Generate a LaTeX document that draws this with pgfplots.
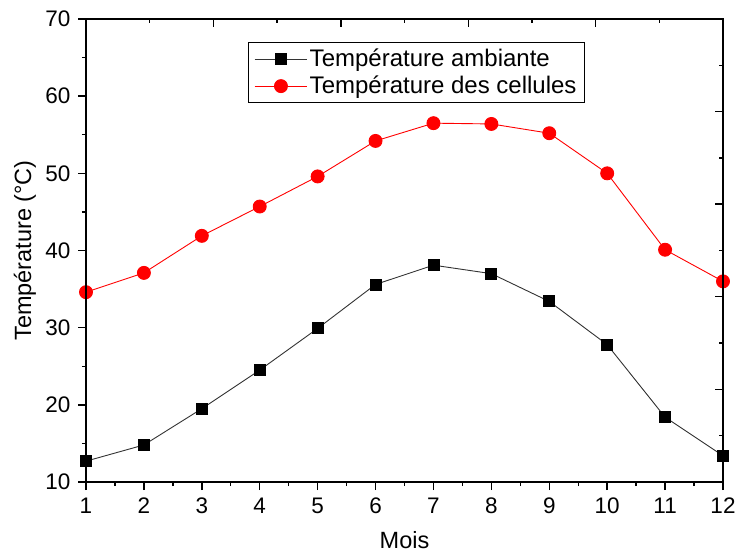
\documentclass[border=0pt]{standalone}
\usepackage{fontspec}
\setmainfont{Liberation Sans}
\usepackage{pgfplots}
\pgfplotsset{compat=1.18}
\begin{document}
\begin{tikzpicture}
\fontsize{22.5}{26}\selectfont
\begin{axis}[
  scale only axis,
  width=637pt, height=463pt,
  xmin=1, xmax=12, ymin=10, ymax=70,
  xtick={1,...,12}, ytick={10,20,...,70},
  minor x tick num=1, minor y tick num=1,
  xtick pos=bottom, ytick pos=left,
  tick align=outside,
  major tick length=8pt, minor tick length=4pt,
  every tick/.style={line width=1.4pt, black},
  axis line style={line width=1.6pt},
  /pgf/number format/assume math mode=true,
  ticklabel style={font=\fontsize{22.5}{26}\selectfont},
  label style={font=\fontsize{23.5}{27}\selectfont},
  xlabel={Mois}, ylabel={Température (°C)},
  xlabel style={yshift=-3pt},
  ylabel style={yshift=-6pt},
  legend style={at={(0.254,0.95)}, anchor=north west, draw=black, line width=0.8pt,
    font=\fontsize{24}{28}\selectfont, inner xsep=6pt, inner ysep=4pt,
    row sep=2pt, cells={anchor=west}},
  legend cell align=left,
  legend image code/.code={
    \draw[#1, line width=0.9pt] (0cm,0cm) -- (1.85cm,0cm);
    \draw[#1, only marks] plot coordinates {(0.925cm,0cm)};
  },
]
\addplot[black!80, line width=0.9pt, mark=square*, mark size=5.5pt,
  mark options={solid, fill=black, draw=black}]
  coordinates {
  (1,12.7) (2,14.8) (3,19.5) (4,24.5) (5,29.9) (6,35.6)
  (7,38.1) (8,37.0) (9,33.4) (10,27.8) (11,18.4) (12,13.4)
  };
\addlegendentry{Température ambiante}
\addplot[red, line width=0.9pt, mark=*, mark size=6.5pt,
  mark options={solid, fill=red, draw=red}]
  coordinates {
  (1,34.6) (2,37.1) (3,41.9) (4,45.7) (5,49.6) (6,54.2)
  (7,56.5) (8,56.4) (9,55.2) (10,50.0) (11,40.1) (12,36.0)
  };
\addlegendentry{Température des cellules}
\end{axis}
% secondary frame ticks on the top and right edges
\begin{axis}[
  scale only axis,
  width=637pt, height=463pt,
  xmin=0, xmax=10, ymin=0, ymax=10,
  xtick={2,4,6,8}, ytick={2,4,6,8},
  minor xtick={1,3,5,7,9}, minor ytick={1,3,5,7,9},
  xtick pos=top, ytick pos=right,
  xticklabels={}, yticklabels={},
  tick align=inside,
  major tick length=8pt, minor tick length=4pt,
  every tick/.style={line width=1.4pt, black},
  axis line style={line width=1.6pt},
]
\end{axis}
% page margins around the plot area
\pgfresetboundingbox
\path (-86pt,-72pt) rectangle (650pt,482pt);
\end{tikzpicture}
\end{document}
